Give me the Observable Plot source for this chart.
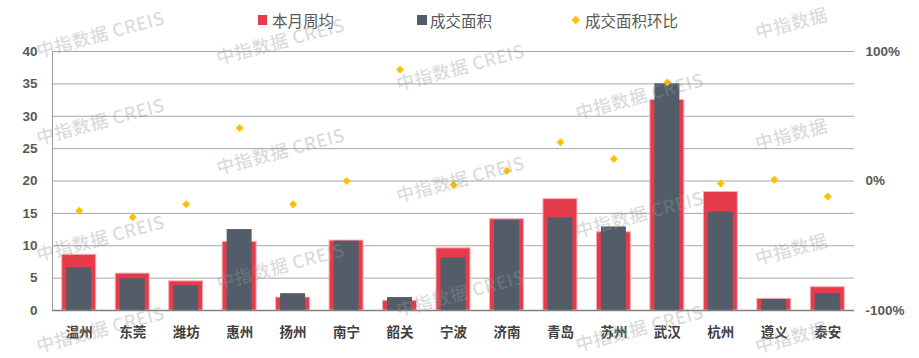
<!DOCTYPE html>
<html>
<head>
<meta charset="utf-8">
<script src="https://cdn.jsdelivr.net/npm/d3@7"></script>
<script src="https://cdn.jsdelivr.net/npm/@observablehq/plot@0.6"></script>
<style>
  body { margin: 0; background: #fff; }
  #wrap { position: relative; width: 919px; height: 358px; overflow: hidden; background: #fff; font-family: "Noto Sans CJK SC", "Noto Sans", sans-serif; }
  #chart { position: absolute; left: 0; top: 0; }
  .leg { position: absolute; top: 11px; height: 18px; line-height: 18px; font-size: 15.5px; color: #595959; white-space: nowrap; }
  .sw { position: absolute; }
  .wm { position: absolute; font-size: 18px; line-height: 1; font-weight: 500; color: rgba(150,150,150,0.35); white-space: nowrap; transform: translate(-50%, -50%) rotate(-15deg); pointer-events: none; font-family: "Noto Sans CJK SC", "Open Sans", sans-serif; letter-spacing: 0.5px; }
</style>
</head>
<body>
<div id="wrap">
  <div id="chart"></div>
</div>
<script>
// ---- data ----
const cities = ["温州","东莞","潍坊","惠州","扬州","南宁","韶关","宁波","济南","青岛","苏州","武汉","杭州","遵义","泰安"];
const weeklyAvg = [8.6, 5.7, 4.5, 10.6, 2.0, 10.8, 1.5, 9.6, 14.1, 17.2, 12.1, 32.5, 18.3, 1.8, 3.6];   // 本月周均
const dealArea  = [6.6, 4.9, 3.8, 12.5, 2.6, 10.7, 2.0, 8.1, 13.9, 14.3, 12.9, 35.0, 15.2, 1.7, 2.6];   // 成交面积
const momChange = [-23, -28, -18, 41, -18, 0, 86, -3, 8, 30, 17, 76, -2, 1, -12];                    // 成交面积环比 (%)
const leftTicks = [0, 5, 10, 15, 20, 25, 30, 35, 40];
const rightTicks = [-100, 0, 100];
const seriesNames = ["本月周均", "成交面积", "成交面积环比"];
const watermarkText = "中指数据 CREIS";
const watermarkShort = "中指数据";

// ---- build ----
const data = cities.map((c, i) => ({city: c, avg: weeklyAvg[i], area: dealArea[i], mom: momChange[i]}));
const leftMax = 40;
const toLeft = p => (p + 100) / 200 * leftMax;   // map right-axis % onto left scale
const fromLeft = v => v / leftMax * 200 - 100;

const W = 919, H = 358, mL = 52, mR = 65, mT = 51, mB = 48;
const band = (W - mL - mR) / cities.length;
const redW = 34, darkW = 25;

const chart = Plot.plot({
  width: W, height: H,
  marginTop: mT, marginBottom: mB, marginLeft: mL, marginRight: mR,
  style: {background: "transparent", overflow: "visible"},
  x: {domain: cities, padding: 0, round: false, axis: null},
  y: {domain: [0, leftMax], axis: null},
  marks: [
    Plot.ruleY(leftTicks.filter(d => d > 0), {stroke: "#a6a6a6", strokeWidth: 1}),
    Plot.ruleX([cities[0]], {x: d => d, dx: -band / 2, y1: 0, y2: leftMax, stroke: "#9a9a9a", strokeWidth: 1}),
    Plot.barY(data, {x: "city", y: "avg", fill: "#e63b4a", stroke: "#f5b0b6", strokeWidth: 1,
      insetLeft: (band - redW) / 2, insetRight: (band - redW) / 2}),
    Plot.barY(data, {x: "city", y: "area", fill: "#535d69",
      insetLeft: (band - darkW) / 2, insetRight: (band - darkW) / 2}),
    Plot.ruleY([0], {stroke: "#808080", strokeWidth: 1.5}),
    Plot.dot(data, {x: "city", y: d => toLeft(d.mom), symbol: "diamond2", r: 3.6, fill: "#ffc000", stroke: "none"}),
    Plot.axisY({anchor: "left", ticks: leftTicks, tickSize: 0, tickPadding: 15, label: null,
      fontSize: 13.5, fontWeight: "bold", fontFamily: "Liberation Sans, Arial, sans-serif", color: "#595959"}),
    Plot.axisY({anchor: "right", ticks: rightTicks.map(toLeft), tickFormat: d => `${Math.round(fromLeft(d))}%`,
      tickSize: 0, tickPadding: 11, label: null,
      fontSize: 13.5, fontWeight: "bold", fontFamily: "Liberation Sans, Arial, sans-serif", color: "#595959"}),
    Plot.axisX({anchor: "bottom", tickSize: 0, tickPadding: 17, label: null,
      fontSize: 13.5, fontWeight: "bold", fontFamily: "Noto Sans CJK SC, sans-serif", color: "#404040"})
  ]
});
document.getElementById("chart").appendChild(chart);

// ---- legend ----
const wrap = document.getElementById("wrap");
function addLeg(swHtml, textLeft, name) {
  const s = document.createElement("div");
  s.innerHTML = swHtml;
  wrap.appendChild(s.firstChild);
  const t = document.createElement("div");
  t.className = "leg";
  t.style.left = textLeft + "px";
  t.textContent = name;
  wrap.appendChild(t);
}
addLeg('<div class="sw" style="left:258px;top:15px;width:9px;height:10px;background:#e63b4a"></div>', 272, seriesNames[0]);
addLeg('<div class="sw" style="left:417px;top:15px;width:10px;height:10px;background:#535d69"></div>', 430, seriesNames[1]);
addLeg('<div class="sw" style="left:573px;top:17px;width:5.5px;height:5.5px;background:#ffc000;transform:rotate(45deg)"></div>', 585, seriesNames[2]);

// ---- watermark ----
const wmPos = [
  [100, 33], [100, 120], [100, 237], [100, 328],
  [280, 40], [280, 150], [280, 265],
  [460, 66], [460, 178], [460, 292],
  [639, 95], [639, 213], [639, 327]
];
const wmShortPos = [[791, 22], [791, 133], [791, 248], [791, 336]];
function addWm(x, y, txt) {
  const d = document.createElement("div");
  d.className = "wm";
  d.style.left = x + "px";
  d.style.top = y + "px";
  d.textContent = txt;
  wrap.appendChild(d);
}
wmPos.forEach(([x, y]) => addWm(x, y, watermarkText));
wmShortPos.forEach(([x, y]) => addWm(x, y, watermarkShort));
</script>
</body>
</html>
